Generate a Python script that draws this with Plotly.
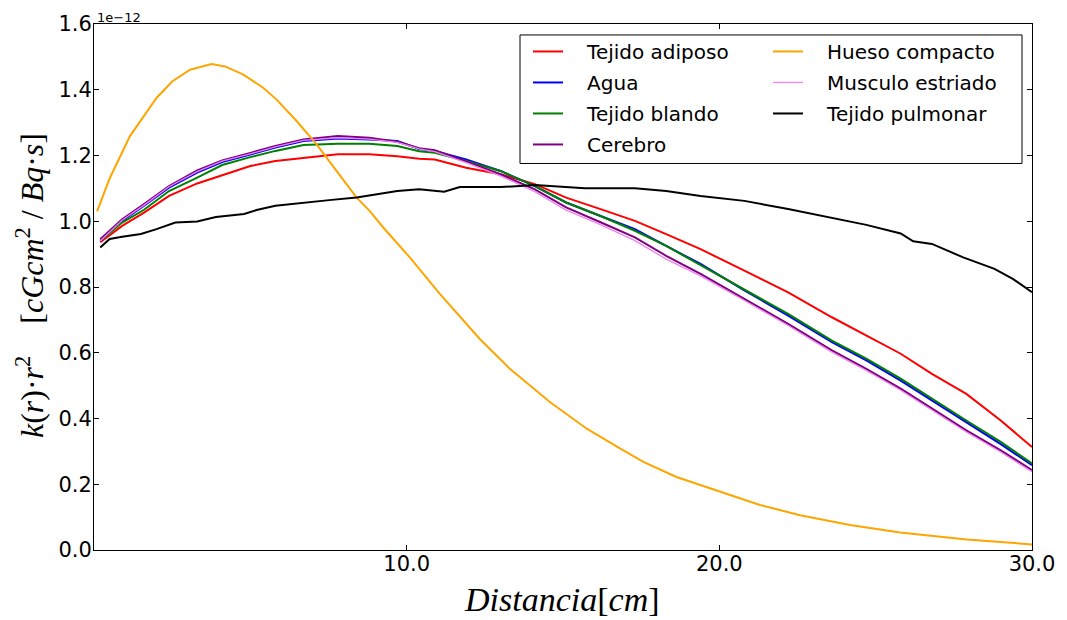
import plotly.graph_objects as go

# Common distance grid (cm) for the soft-tissue-like curves
X = [0.2, 0.9, 1.6, 2.4, 3.3, 4.1, 5.0, 5.8, 6.7, 7.8, 8.8, 9.7, 10.4, 10.9, 11.9,
     13.0, 14.1, 15.1, 16.2, 17.3, 18.3, 19.4, 20.8, 22.2, 23.6, 24.7, 25.8, 26.8,
     27.9, 29.0, 30.0]

# values in units of 1e-12 cGy cm^2 / (Bq s)
tejido_adiposo = [0.936, 0.986, 1.026, 1.077, 1.115, 1.141, 1.168, 1.183, 1.193, 1.204, 1.204,
                  1.198, 1.190, 1.188, 1.163, 1.143, 1.113, 1.072, 1.037, 1.001, 0.961, 0.915,
                  0.850, 0.784, 0.708, 0.652, 0.597, 0.536, 0.475, 0.394, 0.313]
agua = [0.940, 1.001, 1.047, 1.102, 1.148, 1.180, 1.203, 1.224, 1.244, 1.252, 1.249, 1.244,
        1.220, 1.214, 1.188, 1.153, 1.107, 1.057, 1.016, 0.976, 0.925, 0.870, 0.790, 0.713,
        0.632, 0.577, 0.515, 0.455, 0.388, 0.322, 0.258]
tejido_blando = [0.941, 0.996, 1.035, 1.092, 1.133, 1.171, 1.195, 1.214, 1.232, 1.236, 1.236,
                 1.229, 1.213, 1.208, 1.183, 1.153, 1.107, 1.057, 1.016, 0.971, 0.925, 0.867,
                 0.794, 0.718, 0.637, 0.582, 0.521, 0.460, 0.394, 0.329, 0.263]
cerebro = [0.945, 1.006, 1.052, 1.107, 1.155, 1.185, 1.208, 1.229, 1.249, 1.259, 1.254, 1.242,
           1.222, 1.216, 1.182, 1.143, 1.097, 1.042, 0.997, 0.951, 0.895, 0.840, 0.764, 0.688,
           0.607, 0.551, 0.491, 0.430, 0.364, 0.303, 0.243]
musculo_estriado = [0.940, 1.003, 1.049, 1.105, 1.151, 1.183, 1.205, 1.226, 1.246, 1.254, 1.250,
                    1.240, 1.220, 1.212, 1.178, 1.138, 1.090, 1.034, 0.990, 0.941, 0.885, 0.834,
                    0.759, 0.683, 0.602, 0.546, 0.486, 0.425, 0.359, 0.298, 0.238]

X_hueso = [0.1, 0.5, 1.15, 2.0, 2.5, 3.07, 3.76, 4.19, 4.78, 5.41, 5.84, 6.48, 7.12, 7.76, 8.4,
           8.83, 9.25, 10.1, 11.06, 12.34, 13.3, 14.58, 15.76, 16.82, 17.57, 18.63, 20.02,
           21.3, 22.58, 24.18, 25.78, 27.91, 30.0]
hueso_compacto = [1.03, 1.13, 1.259, 1.375, 1.425, 1.461, 1.478, 1.471, 1.446, 1.406, 1.370,
                  1.305, 1.234, 1.153, 1.072, 1.030, 0.981, 0.890, 0.779, 0.642, 0.551, 0.450,
                  0.369, 0.309, 0.268, 0.222, 0.177, 0.137, 0.106, 0.076, 0.053, 0.032, 0.017]

X_pulmon = [0.2, 0.5, 0.9, 1.5, 2.0, 2.6, 3.3, 3.9, 4.8, 5.2, 5.8, 6.7, 7.6, 8.4, 9.0, 9.7,
            10.4, 11.2, 11.7, 13.0, 14.1, 15.7, 17.3, 18.3, 19.4, 20.8, 22.2, 23.6, 24.7,
            25.8, 26.2, 26.8, 27.8, 28.8, 29.4, 30.0]
tejido_pulmonar = [0.920, 0.946, 0.953, 0.961, 0.976, 0.996, 0.999, 1.013, 1.022, 1.034, 1.047,
                   1.057, 1.065, 1.072, 1.082, 1.092, 1.097, 1.090, 1.104, 1.104, 1.110, 1.100,
                   1.100, 1.092, 1.077, 1.062, 1.037, 1.011, 0.989, 0.963, 0.939, 0.931, 0.890,
                   0.855, 0.824, 0.784]

x_ticks = [10, 20, 30]
x_tick_labels = ["10.0", "20.0", "30.0"]
y_ticks = [0.0, 0.2, 0.4, 0.6, 0.8, 1.0, 1.2, 1.4, 1.6]

series = [
    ("Tejido adiposo", X, tejido_adiposo, "#ff0000", 2.0, "legend"),
    ("Agua", X, agua, "#0000ff", 2.0, "legend"),
    ("Tejido blando", X, tejido_blando, "#008000", 2.0, "legend"),
    ("Cerebro", X, cerebro, "#800080", 2.0, "legend"),
    ("Hueso compacto", X_hueso, hueso_compacto, "#ffa500", 2.0, "legend2"),
    ("Musculo estriado", X, musculo_estriado, "#ee82ee", 1.3, "legend2"),
    ("Tejido pulmonar", X_pulmon, tejido_pulmonar, "#000000", 2.0, "legend2"),
]

PAD = "\u00a0\u00a0\u00a0"  # visual gap between legend line sample and label

fig = go.Figure()
for i, (name, xs, ys, color, w, leg) in enumerate(series):
    fig.add_trace(go.Scatter(x=xs, y=ys, mode="lines", name=PAD + name,
                             line=dict(color=color, width=w),
                             legend=leg, legendgroup=f"g{i}"))

W, H = 1067, 620
L, R, T, B = 94, 35, 22, 70
pw, ph = W - L - R, H - T - B


def px(x):
    return (x - L) / pw


def py(y):
    return (H - B - y) / ph


legend_font = dict(family="DejaVu Sans", size=20, color="black")
common_leg = dict(xanchor="left", yanchor="top", font=legend_font,
                  bgcolor="rgba(0,0,0,0)", borderwidth=0, tracegroupgap=2,
                  itemwidth=30)

axis_common = dict(showline=True, linecolor="black", linewidth=1, mirror="ticks",
                   ticks="inside", ticklen=5, tickcolor="black", tickwidth=1,
                   showgrid=False, zeroline=False,
                   tickfont=dict(family="DejaVu Sans", size=21, color="black"))

fig.update_layout(
    width=W, height=H,
    margin=dict(l=L, r=R, t=T, b=B),
    paper_bgcolor="white", plot_bgcolor="white",
    showlegend=True,
    legend=dict(x=px(528), y=py(30), **common_leg),
    legend2=dict(x=px(768), y=py(30), **common_leg),
    xaxis=dict(range=[0, 30], tickvals=x_ticks, ticktext=x_tick_labels,
               ticklabelstandoff=-5, **axis_common),
    yaxis=dict(range=[0, 1.6], tickvals=y_ticks, tickformat=".1f",
               ticklabelstandoff=-3, **axis_common),
    shapes=[dict(type="rect", xref="paper", yref="paper",
                 x0=px(520), x1=px(1022), y0=py(162), y1=py(33),
                 line=dict(color="black", width=1), fillcolor="rgba(0,0,0,0)",
                 layer="above")],
    annotations=[
        dict(text="1e\u221212", xref="paper", yref="paper", x=px(95), y=py(15),
             xanchor="left", yanchor="middle", showarrow=False,
             font=dict(family="DejaVu Sans", size=13, color="black")),
        dict(text="<i>Distancia</i>[<i>cm</i>]", xref="paper", yref="paper",
             x=px(562), y=py(600), xanchor="center", yanchor="middle", showarrow=False,
             font=dict(family="Liberation Serif", size=34, color="black")),
        dict(text="<i>k</i>(<i>r</i>)\u00b7<i>r</i><sup>2</sup>\u00a0\u00a0\u00a0\u00a0"
                  "[<i>cGcm</i><sup>2</sup> / <i>Bq</i>\u00b7<i>s</i>]",
             xref="paper", yref="paper", x=px(30), y=py(285), textangle=-90,
             xanchor="center", yanchor="middle", showarrow=False,
             font=dict(family="Liberation Serif", size=32, color="black")),
    ],
)

fig.write_html("out.html")
